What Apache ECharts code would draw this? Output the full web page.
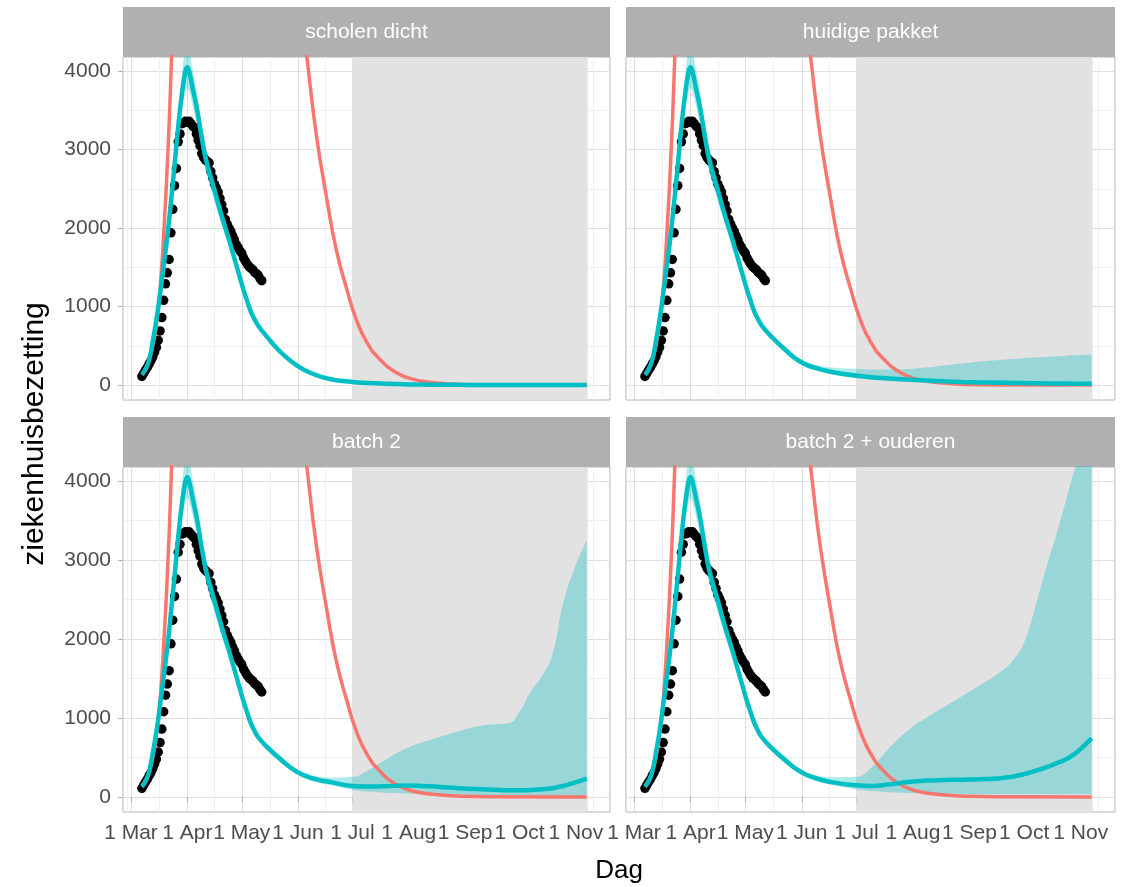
<!DOCTYPE html>
<html>
<head>
<meta charset="utf-8">
<script src="https://cdn.jsdelivr.net/npm/echarts@6/dist/echarts.min.js"></script>
<style>
  html, body { margin: 0; padding: 0; background: #fff; }
  #chart { width: 1130px; height: 887px; }
</style>
</head>
<body>
<div id="chart"></div>
<script>
// days are counted from 1 March 2020
const panelTitles = ['scholen dicht', 'huidige pakket', 'batch 2', 'batch 2 + ouderen'];

// observed hospital occupancy, one dot per day from 7 March (day 6)
const obsFirstDay = 6;
const obsValues = [110, 150, 190, 225, 270, 310, 360, 420, 480, 570,
  690, 860, 1080, 1290, 1430, 1600, 1940, 2240, 2540, 2760,
  3100, 3200, 3330, 3340, 3360, 3350, 3360, 3330, 3300, 3280,
  3200, 3120, 3050, 2950, 2900, 2870, 2850, 2830, 2720, 2640,
  2560, 2510, 2460, 2380, 2300, 2220, 2110, 2050, 2000, 1960,
  1900, 1850, 1790, 1750, 1710, 1680, 1620, 1580, 1540, 1510,
  1490, 1470, 1440, 1420, 1400, 1360, 1330];

// unmitigated scenario (red)
const redDays = [6, 8, 10, 12, 14, 16, 18, 20, 22, 24, 27, 32, 40, 50, 60, 70, 80, 88, 93, 97,
  102, 108, 113, 119, 124, 130, 137, 146, 155, 166, 183, 200, 251];
const redValues = [140, 210, 320, 500, 780, 1220, 1920, 2800, 3950, 5500, 8500, 14000, 21000, 23000, 19000, 13000, 8600, 6000, 4900, 4150,
  3200, 2350, 1730, 1210, 840, 540, 330, 160, 76, 34, 8, 2, 0];

// model fit, shared by all scenarios until mid May
const fitDays = [6, 8, 10, 12, 14, 16, 18, 20, 22, 24, 26, 28, 30, 31, 32, 34, 36, 38, 40, 42, 44, 46, 48, 50, 52, 54, 56, 58, 60, 62, 64, 66, 68, 70];
const fitMid  = [130, 200, 320, 560, 830, 1160, 1520, 1890, 2330, 2800, 3290, 3700, 4000, 4050, 4000, 3780, 3560, 3290, 3020, 2800, 2640, 2480, 2310, 2150, 2000, 1850, 1690, 1530, 1370, 1210, 1070, 935, 840, 760];
const fitLow  = [122, 188, 302, 530, 790, 1110, 1460, 1820, 2240, 2680, 3120, 3480, 3740, 3780, 3740, 3560, 3360, 3110, 2860, 2650, 2500, 2350, 2190, 2040, 1900, 1760, 1610, 1460, 1310, 1160, 1025, 895, 805, 725];
const fitHigh = [140, 215, 340, 590, 870, 1210, 1590, 1970, 2430, 2940, 3480, 3950, 4280, 4330, 4270, 4020, 3770, 3470, 3180, 2950, 2780, 2610, 2430, 2260, 2100, 1940, 1770, 1600, 1430, 1260, 1115, 975, 875, 795];

// scenario projections
const tailDays = [74, 82, 91, 100, 110, 122, 130, 140, 150, 160, 170, 180, 190, 200, 208, 214, 220, 226, 232, 238, 244, 251];

const scholenMid  = [640, 430, 255, 145, 74, 40, 28, 18, 11, 7, 4, 3, 2, 1, 1, 1, 1, 0, 0, 0, 0, 0];
const scholenLow  = [605, 400, 232, 128, 63, 32, 21, 12, 7, 4, 2, 1, 1, 0, 0, 0, 0, 0, 0, 0, 0, 0];
const scholenHigh = [675, 458, 278, 164, 88, 50, 37, 26, 18, 13, 10, 8, 7, 6, 6, 5, 5, 5, 5, 5, 5, 5];

const huidigMid  = [650, 470, 300, 215, 160, 120, 100, 85, 70, 58, 48, 40, 34, 30, 27, 25, 23, 21, 20, 19, 18, 17];
const huidigLow  = [615, 435, 270, 185, 130, 88, 70, 52, 38, 28, 20, 14, 10, 7, 5, 4, 3, 3, 2, 2, 2, 2];
const huidigHigh = [690, 510, 340, 255, 220, 205, 200, 200, 205, 225, 250, 275, 300, 320, 332, 342, 350, 358, 366, 375, 382, 390];

const batch2Mid  = [655, 485, 325, 235, 188, 140, 133, 136, 145, 140, 128, 112, 100, 92, 86, 85, 88, 98, 112, 140, 180, 234];
const batch2Low  = [620, 445, 290, 200, 150, 90, 70, 55, 45, 38, 32, 28, 25, 22, 20, 20, 20, 20, 20, 20, 20, 20];
const batch2High = [695, 530, 360, 275, 245, 255, 330, 470, 600, 690, 760, 830, 890, 920, 935, 1080, 1330, 1520, 1800, 2450, 2880, 3250];

const ouderenMid  = [655, 485, 325, 235, 182, 148, 140, 160, 190, 208, 215, 220, 226, 235, 260, 290, 330, 375, 430, 490, 590, 745];
const ouderenLow  = [620, 445, 290, 200, 150, 95, 75, 60, 50, 45, 40, 38, 36, 35, 35, 35, 35, 35, 35, 35, 35, 35];
const ouderenHigh = [695, 530, 360, 275, 250, 255, 370, 620, 840, 1000, 1140, 1280, 1420, 1570, 1740, 1960, 2400, 2900, 3350, 3850, 4350, 5000];

const tailMid  = [scholenMid, huidigMid, batch2Mid, ouderenMid];
const tailLow  = [scholenLow, huidigLow, batch2Low, ouderenLow];
const tailHigh = [scholenHigh, huidigHigh, batch2High, ouderenHigh];

// shaded projection period
const shadeFromDay = 122;
const shadeToDay = 251.5;

const yTicks = [0, 1000, 2000, 3000, 4000];

// ---- layout ----
const DAY = 864e5;
const MAR1 = Date.UTC(2020, 2, 1);
const xMinDay = -4.4, xMaxDay = 263.8;
const yMin = -190, yMax = 4180;
const FONT = '"Liberation Sans", Arial, sans-serif';
const stripH = 50;
const boxes = [
  { left: 123, top: 57, width: 487, height: 343 },
  { left: 626, top: 57, width: 489, height: 343 },
  { left: 123, top: 467, width: 487, height: 345 },
  { left: 626, top: 467, width: 489, height: 345 }
];

function toTime(d) { return MAR1 + d * DAY; }
function pairs(days, values) { return days.map((d, i) => [toTime(d), values[i]]); }

const obsData = obsValues.map((v, i) => [toTime(obsFirstDay + i), v]);
const redData = pairs(redDays, redValues);

const grids = [], xAxes = [], yAxes = [], series = [], graphics = [];

boxes.forEach((b, i) => {
  const bottomRow = i >= 2;
  const leftCol = i % 2 === 0;
  grids.push({
    left: b.left, top: b.top, width: b.width, height: b.height,
    show: true, borderColor: '#b3b3b3', borderWidth: 1, backgroundColor: '#fff'
  });
  xAxes.push({
    type: 'time', gridIndex: i,
    min: toTime(xMinDay), max: toTime(xMaxDay),
    minInterval: 28 * DAY, maxInterval: 31 * DAY,
    axisLine: { show: false },
    axisTick: { show: bottomRow, length: 5, lineStyle: { color: '#b3b3b3' } },
    axisLabel: {
      show: bottomRow, formatter: '{d} {MMM}', interval: 0, hideOverlap: false,
      showMinLabel: false, showMaxLabel: false,
      color: '#4d4d4d', fontSize: 21, fontFamily: FONT, margin: 11
    },
    splitLine: { show: true, lineStyle: { color: '#dedede', width: 1 } },
    minorTick: { show: false, splitNumber: 2 },
    minorSplitLine: { show: true, lineStyle: { color: '#efefef', width: 1 } }
  });
  yAxes.push({
    type: 'value', gridIndex: i, min: yMin, max: yMax,
    axisLine: { show: false },
    axisTick: { show: leftCol, length: 5, customValues: yTicks, lineStyle: { color: '#b3b3b3' } },
    axisLabel: {
      show: leftCol, customValues: yTicks, formatter: v => String(v),
      color: '#4d4d4d', fontSize: 21, fontFamily: FONT, margin: 12
    },
    splitLine: { show: true, lineStyle: { color: '#dedede', width: 1 } },
    minorTick: { show: false, splitNumber: 2 },
    minorSplitLine: { show: true, lineStyle: { color: '#efefef', width: 1 } }
  });

  const bandDays = fitDays.concat(tailDays);
  const low = fitLow.concat(tailLow[i]);
  const high = fitHigh.concat(tailHigh[i]);
  const mid = fitMid.concat(tailMid[i]);

  series.push({
    type: 'line', name: 'red', xAxisIndex: i, yAxisIndex: i,
    data: redData, symbol: 'none', smooth: 0.5,
    lineStyle: { color: '#F8766D', width: 3.5 },
    markArea: {
      silent: true,
      itemStyle: { color: '#e2e2e2' },
      data: [[{ xAxis: toTime(shadeFromDay) }, { xAxis: toTime(shadeToDay) }]]
    }
  });
  series.push({
    type: 'line', name: 'bandLow', xAxisIndex: i, yAxisIndex: i, stack: 'band' + i,
    data: pairs(bandDays, low), symbol: 'none', smooth: 0.5,
    lineStyle: { opacity: 0 }
  });
  series.push({
    type: 'line', name: 'band', xAxisIndex: i, yAxisIndex: i, stack: 'band' + i,
    data: bandDays.map((d, k) => [toTime(d), high[k] - low[k]]), symbol: 'none', smooth: 0.5,
    lineStyle: { opacity: 0 },
    areaStyle: { color: 'rgba(0,191,196,0.32)', opacity: 1 }
  });
  series.push({
    type: 'line', name: 'fit', xAxisIndex: i, yAxisIndex: i,
    data: pairs(bandDays, mid), symbol: 'none', smooth: 0.5,
    lineStyle: { color: '#00BFC4', width: 4.5 }
  });
  series.push({
    type: 'scatter', name: 'obs', xAxisIndex: i, yAxisIndex: i,
    data: obsData, symbolSize: 9.5,
    itemStyle: { color: '#000', opacity: 1 }
  });

  // facet strip
  graphics.push({
    type: 'rect', silent: true,
    shape: { x: b.left, y: b.top - stripH, width: b.width, height: stripH },
    style: { fill: '#b0b0b0' }
  });
  graphics.push({
    type: 'text', silent: true,
    x: b.left + b.width / 2, y: b.top - stripH / 2,
    style: {
      text: panelTitles[i], fill: '#ffffff', font: '21px ' + FONT,
      align: 'center', verticalAlign: 'middle'
    }
  });
});

graphics.push({
  type: 'text', silent: true, x: 619, y: 871,
  style: { text: 'Dag', fill: '#000', font: '26px ' + FONT, align: 'center', verticalAlign: 'middle' }
});
graphics.push({
  type: 'text', silent: true, x: 35, y: 434, rotation: Math.PI / 2,
  style: { text: 'ziekenhuisbezetting', fill: '#000', font: '30px ' + FONT, align: 'center', verticalAlign: 'middle' }
});

const chart = echarts.init(document.getElementById('chart'));
chart.setOption({
  animation: false,
  useUTC: true,
  backgroundColor: '#fff',
  grid: grids,
  xAxis: xAxes,
  yAxis: yAxes,
  series: series,
  graphic: graphics
});
</script>
</body>
</html>
